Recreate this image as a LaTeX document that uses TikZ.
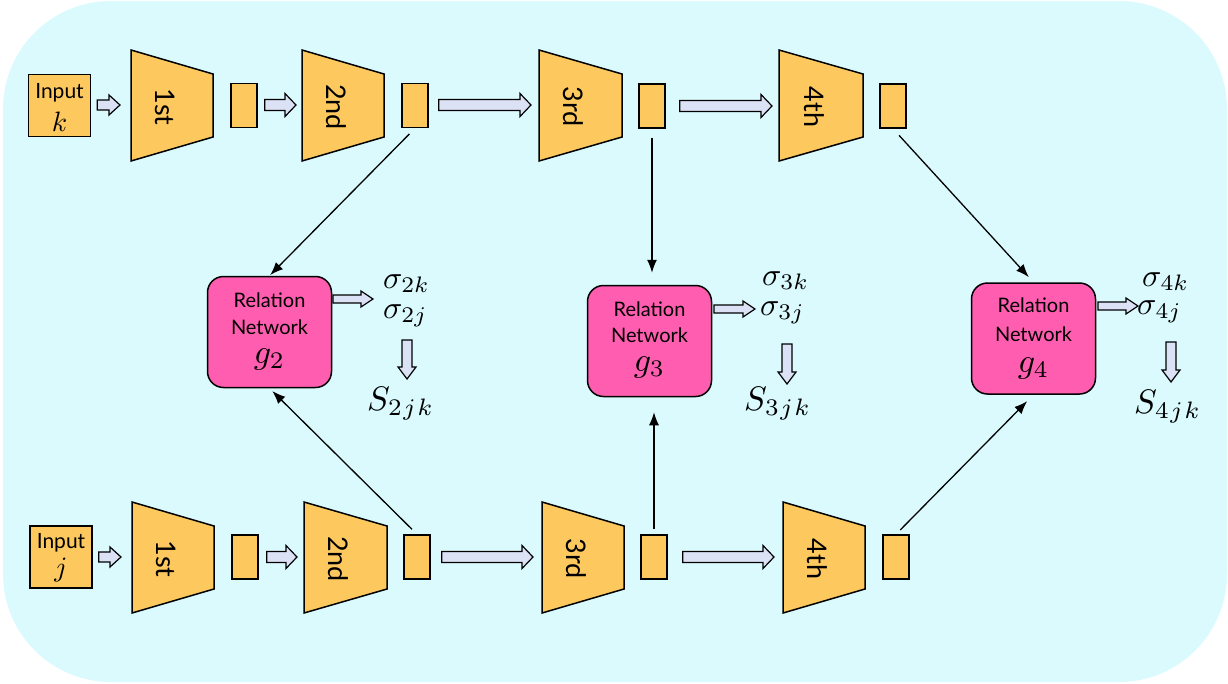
\documentclass[tikz,border=0pt]{standalone}
\usepackage[no-math]{fontspec}
\setmainfont{Lato}
\usetikzlibrary{calc,arrows.meta}
\definecolor{bgc}{RGB}{218,250,254}
\definecolor{org}{RGB}{253,201,94}
\definecolor{pnk}{RGB}{255,94,176}
\definecolor{lav}{RGB}{220,226,245}
\newcommand\blockH[5]{\draw[blk] let \p1=(#1), \p2=(#2) in
  (\x1,\y1+#3) -- (\x2-#5,\y1+#3) -- (\x2-#5,\y1+#4) -- (\x2,\y1) -- (\x2-#5,\y1-#4) -- (\x2-#5,\y1-#3) -- (\x1,\y1-#3) -- cycle;}
\newcommand\blockV[5]{\draw[blk] let \p1=(#1), \p2=(#2) in
  (\x1-#3,\y1) -- (\x1-#3,\y2+#5) -- (\x1-#4,\y2+#5) -- (\x1,\y2) -- (\x1+#4,\y2+#5) -- (\x1+#3,\y2+#5) -- (\x1+#3,\y1) -- cycle;}
% trapezoid: name, xl, xr, yc, label
\newcommand\trapz[5]{%
  \draw[trapbox] (#2,#4-55.5) -- (#3,#4-31.5) -- (#3,#4+31.5) -- (#2,#4+55.5) -- cycle;
  \coordinate (#1w) at (#2,#4);
  \coordinate (#1e) at (#3,#4);
  \node[traptext] (#1) at ({(#2+#3)/2-7},#4+1.5) {#5};}
\newcommand\mbig[2]{\scalebox{#1}{$#2$}}
\begin{document}
\begin{tikzpicture}[x=1pt,y=-1pt,
  blk/.style={draw=black, fill=lav, line width=1.2pt, line join=miter},
  trapbox/.style={draw=black, fill=org, line width=1.5pt, line join=miter},
  traptext/.style={rotate=-90, inner sep=0pt, font=\fontsize{27}{30}\selectfont},
  smallbox/.style={draw=black, fill=org, line width=1.5pt, minimum width=26pt, minimum height=44pt, inner sep=0pt},
  inbox/.style={draw=black, fill=org, line width=1.5pt, minimum width=62pt, minimum height=62pt, inner sep=0pt},
  relbox/.style={draw=black, fill=pnk, line width=1.5pt, rounded corners=16pt, minimum width=124pt, minimum height=111pt, inner sep=0pt},
  intext/.style={inner sep=0pt, anchor=base, font=\fontsize{21}{24}\selectfont},
  reltext/.style={inner sep=0pt, anchor=base, font=\fontsize{20}{24}\selectfont},
  mathc/.style={inner sep=0pt, anchor=base},
  mathw/.style={inner sep=0pt, anchor=base west},
  conn/.style={draw=black, line width=1.3pt, -{Latex[length=13pt,width=10pt]}}
]
\useasboundingbox (0,0) rectangle (1228,683);
\fill[bgc, rounded corners=108pt] (3,1) rectangle (1227,682);

% ---------- top row (input k) ----------
\node[inbox] (in1) at (59.5,105.5) {};
\node[intext] (in1a) at (59.5,98) {Input};
\node[mathc] (in1b) at (59.5,131) {\mbig{2.8}{k}};
\trapz{ta}{131}{213}{105.5}{1st}
\node[smallbox] (r1t) at (244,105.5) {};
\trapz{tb}{302}{384}{105.5}{2nd}
\node[smallbox] (r2t) at (415,105.5) {};
\trapz{tc}{539}{622}{105.5}{3rd}
\node[smallbox] (r3t) at (652,106) {};
\trapz{td}{779}{863}{105.5}{4th}
\node[smallbox] (r4t) at (893,106) {};

\blockH{$(in1.east)+(6pt,0.5pt)$}{$(taw)+(-11pt,0.5pt)$}{5pt}{10pt}{11pt}
\blockH{$(r1t.east)+(7pt,0.5pt)$}{$(tbw)+(-6pt,0.5pt)$}{5.5pt}{11.5pt}{11pt}
\blockH{$(r2t.east)+(10pt,0.5pt)$}{$(tcw)+(-8pt,0.5pt)$}{5.5pt}{11.5pt}{11pt}
\blockH{$(r3t.east)+(14pt,0pt)$}{$(tdw)+(-7pt,0.5pt)$}{5.5pt}{11.5pt}{11pt}

% ---------- bottom row (input j) ----------
\node[inbox] (in2) at (61,557) {};
\node[intext] (in2a) at (61,548) {Input};
\node[mathc] (in2b) at (61,576) {\mbig{2.8}{j}};
\trapz{ba}{132}{214}{557.5}{1st}
\node[smallbox] (r1b) at (245,557) {};
\trapz{bb}{304}{387}{557.5}{2nd}
\node[smallbox] (r2b) at (417,557) {};
\trapz{bc}{542}{624}{557.5}{3rd}
\node[smallbox] (r3b) at (654,557) {};
\trapz{bd}{783}{865}{557.5}{4th}
\node[smallbox] (r4b) at (896,557) {};

\blockH{$(in2.east)+(6pt,0pt)$}{$(baw)+(-11pt,0pt)$}{5pt}{10pt}{11pt}
\blockH{$(r1b.east)+(8pt,0pt)$}{$(bbw)+(-7pt,0pt)$}{5.5pt}{11.5pt}{11pt}
\blockH{$(r2b.east)+(11pt,0pt)$}{$(bcw)+(-9pt,0pt)$}{5.5pt}{11.5pt}{11pt}
\blockH{$(r3b.east)+(15pt,0pt)$}{$(bdw)+(-9pt,0pt)$}{5.5pt}{11.5pt}{11pt}

% ---------- relation networks ----------
\node[relbox] (g2) at (269.5,332) {};
\node[reltext] at ($(g2.north)+(0,32)$) {Relation};
\node[reltext] at ($(g2.north)+(0,59)$) {Network};
\node[mathc] at ($(g2.north)+(0,88)$) {\mbig{3.4}{g_2}};

\node[relbox] (g3) at (649.5,341) {};
\node[reltext] at ($(g3.north)+(0,32)$) {Relation};
\node[reltext] at ($(g3.north)+(0,58)$) {Network};
\node[mathc] at ($(g3.north)+(0,87)$) {\mbig{3.4}{g_3}};

\node[relbox] (g4) at (1033.5,338.5) {};
\node[reltext] at ($(g4.north)+(0,30)$) {Relation};
\node[reltext] at ($(g4.north)+(0,59)$) {Network};
\node[mathc] at ($(g4.north)+(0,90)$) {\mbig{3.4}{g_4}};

% ---------- outputs ----------
\node[mathw] (sk2) at (383,288) {\mbig{3.2}{\sigma_{2k}}};
\node[mathw] (sj2) at (383,318) {\mbig{3.2}{\sigma_{2j}}};
\node[mathw] (S2) at (367,410) {\mbig{3.4}{S_{2\mkern1mu j\mkern1mu k}}};
\node[mathw] (sk3) at (762,285) {\mbig{3.2}{\sigma_{3k}}};
\node[mathw] (sj3) at (760,315) {\mbig{3.2}{\sigma_{3j}}};
\node[mathw] (S3) at (744,410) {\mbig{3.4}{S_{3\mkern1mu j\mkern1mu k}}};
\node[mathw] (sk4) at (1142,286) {\mbig{3.2}{\sigma_{4k}}};
\node[mathw] (sj4) at (1137,314) {\mbig{3.2}{\sigma_{4j}}};
\node[mathw] (S4) at (1134,413) {\mbig{3.4}{S_{4\mkern1mu j\mkern1mu k}}};

\coordinate (o2a) at (333,299); \coordinate (o2b) at (373,299);
\coordinate (o3a) at (714,309); \coordinate (o3b) at (755,309);
\coordinate (o4a) at (1098,306); \coordinate (o4b) at (1138,306);
\blockH{o2a}{o2b}{4pt}{8pt}{12pt}
\blockH{o3a}{o3b}{4pt}{8pt}{12pt}
\blockH{o4a}{o4b}{4pt}{8pt}{12pt}

\coordinate (d2a) at (407,340); \coordinate (d2b) at (407,379);
\coordinate (d3a) at (787,344); \coordinate (d3b) at (787,384);
\coordinate (d4a) at (1171,342); \coordinate (d4b) at (1171,382);
\blockV{d2a}{d2b}{5pt}{9pt}{12pt}
\blockV{d3a}{d3b}{5pt}{9pt}{12pt}
\blockV{d4a}{d4b}{5pt}{9pt}{12pt}

% ---------- connectors ----------
\draw[conn, shorten <=8pt, shorten >=1pt] (r2t.south) -- (g2.north);
\draw[conn, shorten <=9pt, shorten >=12pt] (r3t.south) -- (r3t.south |- g3.north);
\draw[conn, shorten <=9pt, shorten >=7pt] (r4t.south) -- (g4.north);
\draw[conn, shorten <=7pt, shorten >=4pt] (r2b.north) -- (g2.south);
\draw[conn, shorten <=5pt, shorten >=15pt] (r3b.north) -- (r3b.north |- g3.south);
\draw[conn, shorten <=6pt, shorten >=9pt] (r4b.north) -- (g4.south);
\end{tikzpicture}
\end{document}
